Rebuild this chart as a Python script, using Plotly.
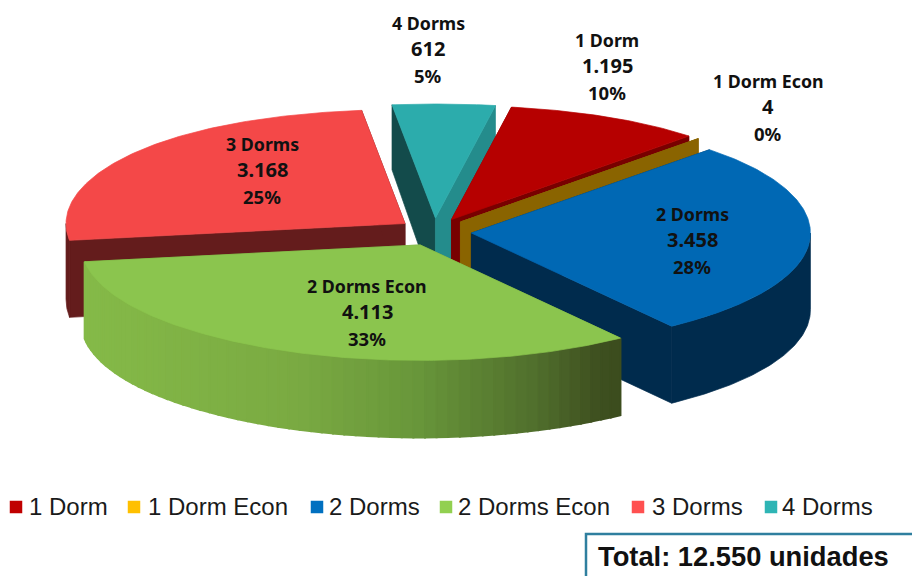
import math
import plotly.graph_objects as go

categories = ["1 Dorm", "1 Dorm Econ", "2 Dorms", "2 Dorms Econ", "3 Dorms", "4 Dorms"]
values = [1195, 4, 3458, 4113, 3168, 612]

top_colors = ["#B60000", "#8A6400", "#0068B4", "#8BC54E", "#F44848", "#2CACAC"]
wall_colors = ["#780000", "#8A6400", "#002B4D", "#6E9A3C", "#641C1C", "#134B4B"]
swatch_colors = ["#C00000", "#FFC000", "#0070C0", "#92D050", "#FF5050", "#2EB5B5"]
draw_order = [4, 5, 0, 1, 2, 3]

label_x = [607, 768, 692, 367, 262, 428]
label_y = [40, 81, 214, 286, 144, 23]
label_sizes = [17.8, 20, 18.5]
label_steps = [0, 25, 52]
legend_x = [16, 134, 317, 446, 638, 771]
legend_text_x = [27, 146, 326.5, 456, 650, 779.5]

CX, CY, RX, RY_BACK, RY_SIDE, RY_FRONT = 434.5, 232.0, 339.0, 114.0, 118.0, 115.5
EX, EY = 37.0, 14.0
FIRST = 10.2
total = sum(values)


def dep(y):
    return min(77.0, 65.0 + (y - 105.0) * 0.09)


def pt(apex, t):
    r = math.radians(t)
    c = math.cos(r)
    if c >= 0:
        ry = RY_SIDE + (RY_BACK - RY_SIDE) * c ** 4
    else:
        ry = RY_SIDE + (RY_FRONT - RY_SIDE) * min(1.0, abs(c) * 1.3)
    return apex[0] + RX * math.sin(r), apex[1] - ry * c


def arc(apex, a, b, n=None):
    n = n or max(2, int(abs(b - a) * 1.5) + 2)
    return [pt(apex, a + (b - a) * i / (n - 1)) for i in range(n)]


def drop(points):
    return [(x, y + dep(y)) for x, y in points]


def poly(fig, points, color, width=0.7):
    xs = [p[0] for p in points] + [points[0][0]]
    ys = [p[1] for p in points] + [points[0][1]]
    fig.add_trace(go.Scatter(
        x=xs, y=ys, mode="lines", fill="toself", fillcolor=color,
        line=dict(color=color, width=width), hoverinfo="skip", showlegend=False,
    ))


def mix(c1, c2, f):
    return "rgb(" + ",".join(str(round(a + (b - a) * f)) for a, b in zip(c1, c2)) + ")"


def green_shade(x):
    stops = [(83, (133, 186, 72)), (300, (122, 170, 66)), (420, (104, 150, 58)),
             (540, (80, 110, 44)), (600, (62, 80, 32)), (622, (60, 76, 30))]
    for (x0, c0), (x1, c1) in zip(stops, stops[1:]):
        if x <= x1:
            return mix(c0, c1, max(0.0, (x - x0) / (x1 - x0)))
    return mix(stops[-1][1], stops[-1][1], 0)


angles = []
cum = FIRST
for v in values:
    sweep = 360.0 * v / total
    angles.append((cum, cum + sweep))
    cum += sweep

fig = go.Figure()
for i in draw_order:
    a, b = angles[i]
    mid = math.radians((a + b) / 2)
    apex = (CX + EX * math.sin(mid), CY - EY * math.cos(mid))
    wall = wall_colors[i]
    # radial faces
    for t in (a, b):
        edge = [apex, pt(apex, t)]
        colour = wall
        if categories[i] == "4 Dorms" and t == b:
            colour = "#248C8C"
        poly(fig, edge + drop(edge)[::-1], colour)
    # curved outer face
    lo, hi = max(a, 90.0), min(b, 270.0)
    if hi > lo:
        if categories[i] == "2 Dorms Econ":
            steps = 60
            for k in range(steps, 0, -1):
                t0 = lo + (hi - lo) * (k - 1) / steps
                t1 = lo + (hi - lo) * k / steps
                seg = arc(apex, t0, t1, 4)
                poly(fig, seg + drop(seg)[::-1], green_shade(seg[1][0]), width=2)
        else:
            seg = arc(apex, lo, hi)
            poly(fig, seg + drop(seg)[::-1], wall)
    # top face
    poly(fig, [apex] + arc(apex, a, b), top_colors[i])

# data labels
annotations = []
for i, name in enumerate(categories):
    n = f"{values[i]:,}".replace(",", ".")
    pct = f"{round(100 * values[i] / total)}%"
    for j, line in enumerate([name, n, pct]):
        annotations.append(dict(
            x=label_x[i], y=label_y[i] + label_steps[j], text=f"<b>{line}</b>", showarrow=False,
            xanchor="center", yanchor="middle",
            font=dict(family="Noto Sans", size=label_sizes[j], color="#111111"),
        ))

# legend
for i, name in enumerate(categories):
    fig.add_trace(go.Scatter(
        x=[legend_x[i]], y=[507], mode="markers", showlegend=False, hoverinfo="skip", name=name,
        marker=dict(symbol="square", size=12.5, color=swatch_colors[i], line=dict(width=0)),
    ))
    annotations.append(dict(
        x=legend_text_x[i], y=506, text=name, showarrow=False, xanchor="left", yanchor="middle",
        font=dict(family="Liberation Sans", size=24, color="#1a1a1a"),
    ))

# total box
annotations.append(dict(
    x=596, y=556, text=f"<b>Total: {total:,} unidades</b>".replace(",", "."), showarrow=False,
    xanchor="left", yanchor="middle",
    font=dict(family="Liberation Sans", size=27.3, color="#111111"),
))

fig.update_layout(
    width=912, height=576, margin=dict(l=0, r=0, t=0, b=0),
    paper_bgcolor="white", plot_bgcolor="white", showlegend=False,
    xaxis=dict(range=[0, 912], visible=False, fixedrange=True),
    yaxis=dict(range=[576, 0], visible=False, fixedrange=True),
    annotations=annotations,
    shapes=[dict(type="rect", x0=586, x1=930, y0=534, y1=590,
                 line=dict(color="#2F7F9F", width=2.5), fillcolor="rgba(0,0,0,0)")],
)
fig.write_html("out.html", config={"displayModeBar": False},
               post_script="document.body.style.margin='0';document.body.style.overflow='hidden';")
